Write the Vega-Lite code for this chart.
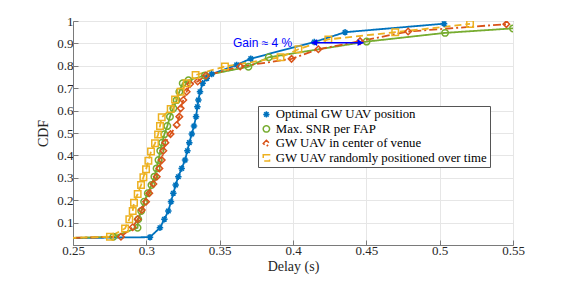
{
  "$schema": "https://vega.github.io/schema/vega-lite/v6.json",
  "width": 440,
  "height": 224,
  "autosize": {"type": "none"},
  "padding": {"left": 73, "top": 21, "right": 52, "bottom": 38},
  "background": "white",
  "view": {"stroke": "#7a7a7a", "strokeWidth": 1},
  "datasets": {
    "cdf": [
      {"s": "Optimal GW UAV position", "x": 0.24, "y": 0.03},
      {"s": "Optimal GW UAV position", "x": 0.3025, "y": 0.035},
      {"s": "Optimal GW UAV position", "x": 0.3093, "y": 0.077},
      {"s": "Optimal GW UAV position", "x": 0.3123, "y": 0.115},
      {"s": "Optimal GW UAV position", "x": 0.315, "y": 0.152},
      {"s": "Optimal GW UAV position", "x": 0.3168, "y": 0.193},
      {"s": "Optimal GW UAV position", "x": 0.3184, "y": 0.231},
      {"s": "Optimal GW UAV position", "x": 0.32, "y": 0.268},
      {"s": "Optimal GW UAV position", "x": 0.3218, "y": 0.305},
      {"s": "Optimal GW UAV position", "x": 0.3241, "y": 0.342},
      {"s": "Optimal GW UAV position", "x": 0.3264, "y": 0.379},
      {"s": "Optimal GW UAV position", "x": 0.328, "y": 0.421},
      {"s": "Optimal GW UAV position", "x": 0.3293, "y": 0.457},
      {"s": "Optimal GW UAV position", "x": 0.331, "y": 0.496},
      {"s": "Optimal GW UAV position", "x": 0.3325, "y": 0.531},
      {"s": "Optimal GW UAV position", "x": 0.3339, "y": 0.573},
      {"s": "Optimal GW UAV position", "x": 0.3348, "y": 0.617},
      {"s": "Optimal GW UAV position", "x": 0.3355, "y": 0.647},
      {"s": "Optimal GW UAV position", "x": 0.3366, "y": 0.684},
      {"s": "Optimal GW UAV position", "x": 0.3384, "y": 0.722},
      {"s": "Optimal GW UAV position", "x": 0.3412, "y": 0.744},
      {"s": "Optimal GW UAV position", "x": 0.3446, "y": 0.763},
      {"s": "Optimal GW UAV position", "x": 0.3616, "y": 0.804},
      {"s": "Optimal GW UAV position", "x": 0.3712, "y": 0.832},
      {"s": "Optimal GW UAV position", "x": 0.4145, "y": 0.906},
      {"s": "Optimal GW UAV position", "x": 0.4355, "y": 0.95},
      {"s": "Optimal GW UAV position", "x": 0.503, "y": 0.988},

      {"s": "Max. SNR per FAP", "x": 0.24, "y": 0.03},
      {"s": "Max. SNR per FAP", "x": 0.2775, "y": 0.037},
      {"s": "Max. SNR per FAP", "x": 0.294, "y": 0.077},
      {"s": "Max. SNR per FAP", "x": 0.2945, "y": 0.115},
      {"s": "Max. SNR per FAP", "x": 0.2965, "y": 0.152},
      {"s": "Max. SNR per FAP", "x": 0.2985, "y": 0.193},
      {"s": "Max. SNR per FAP", "x": 0.301, "y": 0.231},
      {"s": "Max. SNR per FAP", "x": 0.3035, "y": 0.268},
      {"s": "Max. SNR per FAP", "x": 0.3055, "y": 0.305},
      {"s": "Max. SNR per FAP", "x": 0.307, "y": 0.342},
      {"s": "Max. SNR per FAP", "x": 0.3083, "y": 0.379},
      {"s": "Max. SNR per FAP", "x": 0.3095, "y": 0.421},
      {"s": "Max. SNR per FAP", "x": 0.3108, "y": 0.457},
      {"s": "Max. SNR per FAP", "x": 0.3123, "y": 0.494},
      {"s": "Max. SNR per FAP", "x": 0.3143, "y": 0.531},
      {"s": "Max. SNR per FAP", "x": 0.3161, "y": 0.573},
      {"s": "Max. SNR per FAP", "x": 0.3184, "y": 0.61},
      {"s": "Max. SNR per FAP", "x": 0.3207, "y": 0.647},
      {"s": "Max. SNR per FAP", "x": 0.3225, "y": 0.684},
      {"s": "Max. SNR per FAP", "x": 0.3248, "y": 0.722},
      {"s": "Max. SNR per FAP", "x": 0.3287, "y": 0.735},
      {"s": "Max. SNR per FAP", "x": 0.34, "y": 0.757},
      {"s": "Max. SNR per FAP", "x": 0.3696, "y": 0.796},
      {"s": "Max. SNR per FAP", "x": 0.3835, "y": 0.838},
      {"s": "Max. SNR per FAP", "x": 0.4502, "y": 0.908},
      {"s": "Max. SNR per FAP", "x": 0.5037, "y": 0.947},
      {"s": "Max. SNR per FAP", "x": 0.55, "y": 0.967},

      {"s": "GW UAV in center of venue", "x": 0.24, "y": 0.03},
      {"s": "GW UAV in center of venue", "x": 0.2827, "y": 0.037},
      {"s": "GW UAV in center of venue", "x": 0.2907, "y": 0.079},
      {"s": "GW UAV in center of venue", "x": 0.2941, "y": 0.115},
      {"s": "GW UAV in center of venue", "x": 0.2969, "y": 0.156},
      {"s": "GW UAV in center of venue", "x": 0.2998, "y": 0.193},
      {"s": "GW UAV in center of venue", "x": 0.302, "y": 0.231},
      {"s": "GW UAV in center of venue", "x": 0.3048, "y": 0.272},
      {"s": "GW UAV in center of venue", "x": 0.3071, "y": 0.305},
      {"s": "GW UAV in center of venue", "x": 0.3089, "y": 0.342},
      {"s": "GW UAV in center of venue", "x": 0.3105, "y": 0.379},
      {"s": "GW UAV in center of venue", "x": 0.3116, "y": 0.421},
      {"s": "GW UAV in center of venue", "x": 0.313, "y": 0.457},
      {"s": "GW UAV in center of venue", "x": 0.3165, "y": 0.495},
      {"s": "GW UAV in center of venue", "x": 0.3207, "y": 0.536},
      {"s": "GW UAV in center of venue", "x": 0.3225, "y": 0.573},
      {"s": "GW UAV in center of venue", "x": 0.3234, "y": 0.61},
      {"s": "GW UAV in center of venue", "x": 0.3252, "y": 0.647},
      {"s": "GW UAV in center of venue", "x": 0.3275, "y": 0.684},
      {"s": "GW UAV in center of venue", "x": 0.3298, "y": 0.719},
      {"s": "GW UAV in center of venue", "x": 0.335, "y": 0.73},
      {"s": "GW UAV in center of venue", "x": 0.3407, "y": 0.757},
      {"s": "GW UAV in center of venue", "x": 0.364, "y": 0.797},
      {"s": "GW UAV in center of venue", "x": 0.399, "y": 0.831},
      {"s": "GW UAV in center of venue", "x": 0.4173, "y": 0.874},
      {"s": "GW UAV in center of venue", "x": 0.4457, "y": 0.91},
      {"s": "GW UAV in center of venue", "x": 0.4785, "y": 0.953},
      {"s": "GW UAV in center of venue", "x": 0.5455, "y": 0.986},

      {"s": "GW UAV randomly positioned over time", "x": 0.24, "y": 0.03},
      {"s": "GW UAV randomly positioned over time", "x": 0.2752, "y": 0.037},
      {"s": "GW UAV randomly positioned over time", "x": 0.2855, "y": 0.074},
      {"s": "GW UAV randomly positioned over time", "x": 0.2884, "y": 0.115},
      {"s": "GW UAV randomly positioned over time", "x": 0.2907, "y": 0.152},
      {"s": "GW UAV randomly positioned over time", "x": 0.2916, "y": 0.189},
      {"s": "GW UAV randomly positioned over time", "x": 0.2941, "y": 0.228},
      {"s": "GW UAV randomly positioned over time", "x": 0.2964, "y": 0.268},
      {"s": "GW UAV randomly positioned over time", "x": 0.298, "y": 0.302},
      {"s": "GW UAV randomly positioned over time", "x": 0.2998, "y": 0.338},
      {"s": "GW UAV randomly positioned over time", "x": 0.3014, "y": 0.376},
      {"s": "GW UAV randomly positioned over time", "x": 0.3032, "y": 0.417},
      {"s": "GW UAV randomly positioned over time", "x": 0.3059, "y": 0.454},
      {"s": "GW UAV randomly positioned over time", "x": 0.308, "y": 0.493},
      {"s": "GW UAV randomly positioned over time", "x": 0.3093, "y": 0.531},
      {"s": "GW UAV randomly positioned over time", "x": 0.3105, "y": 0.57},
      {"s": "GW UAV randomly positioned over time", "x": 0.3166, "y": 0.607},
      {"s": "GW UAV randomly positioned over time", "x": 0.3196, "y": 0.65},
      {"s": "GW UAV randomly positioned over time", "x": 0.3234, "y": 0.684},
      {"s": "GW UAV randomly positioned over time", "x": 0.3275, "y": 0.722},
      {"s": "GW UAV randomly positioned over time", "x": 0.3336, "y": 0.759},
      {"s": "GW UAV randomly positioned over time", "x": 0.3536, "y": 0.797},
      {"s": "GW UAV randomly positioned over time", "x": 0.3915, "y": 0.838},
      {"s": "GW UAV randomly positioned over time", "x": 0.4037, "y": 0.874},
      {"s": "GW UAV randomly positioned over time", "x": 0.4241, "y": 0.918},
      {"s": "GW UAV randomly positioned over time", "x": 0.4697, "y": 0.95},
      {"s": "GW UAV randomly positioned over time", "x": 0.5207, "y": 0.987}
    ]
  },
  "encoding": {
    "x": {
      "field": "x", "type": "quantitative",
      "scale": {"domain": [0.25, 0.55], "nice": false, "zero": false},
      "axis": {
        "orient": "bottom", "title": "Delay (s)",
        "values": [0.25, 0.3, 0.35, 0.4, 0.45, 0.5, 0.55], "format": "~g",
        "grid": true, "gridColor": "#e6e6e6",
        "domainColor": "#7a7a7a", "tickColor": "#7a7a7a", "tickSize": -5,
        "labelFont": "Liberation Serif", "labelFontSize": 13, "labelColor": "#262626",
        "labelPadding": 4, "labelFlush": false, "labelOverlap": false,
        "titleFont": "Liberation Serif", "titleFontSize": 14, "titleFontWeight": "normal",
        "titleColor": "#262626", "titlePadding": 2
      }
    },
    "y": {
      "field": "y", "type": "quantitative",
      "scale": {"domain": [0, 1], "nice": false, "zero": false},
      "axis": {
        "orient": "left", "title": "CDF",
        "values": [0.1, 0.2, 0.3, 0.4, 0.5, 0.6, 0.7, 0.8, 0.9, 1], "format": "~g",
        "grid": true, "gridColor": "#e6e6e6",
        "domainColor": "#7a7a7a", "tickColor": "#7a7a7a", "tickSize": -5,
        "labelFont": "Liberation Serif", "labelFontSize": 13, "labelColor": "#262626",
        "labelPadding": 5, "labelFlush": false, "labelOverlap": false,
        "titleFont": "Liberation Serif", "titleFontSize": 14, "titleFontWeight": "normal",
        "titleColor": "#262626", "titlePadding": 6
      }
    }
  },
  "layer": [
    {
      "data": {"name": "cdf"},
      "mark": {"type": "line", "strokeWidth": 1.8, "clip": true},
      "encoding": {
        "color": {
          "field": "s", "type": "nominal",
          "scale": {
            "domain": ["Optimal GW UAV position", "Max. SNR per FAP", "GW UAV in center of venue", "GW UAV randomly positioned over time"],
            "range": ["#0072BD", "#77AC30", "#D95319", "#EDB120"]
          },
          "legend": {
            "title": null, "orient": "none", "legendX": 185, "legendY": 85, "direction": "vertical",
            "fillColor": "white", "strokeColor": "#555555", "padding": 2, "cornerRadius": 0,
            "labelFont": "Liberation Serif", "labelFontSize": 12.8, "labelColor": "black", "labelLimit": 400,
            "symbolSize": 40, "symbolStrokeWidth": 1.5, "labelOffset": 3, "rowPadding": 0.5
          }
        },
        "strokeDash": {
          "field": "s", "type": "nominal", "legend": null,
          "scale": {
            "domain": ["Optimal GW UAV position", "Max. SNR per FAP", "GW UAV in center of venue", "GW UAV randomly positioned over time"],
            "range": [[1, 0], [1, 0], [8, 3, 2, 3], [7, 4]]
          }
        },
        "order": {"field": "x", "type": "quantitative"}
      }
    },
    {
      "data": {"name": "cdf"},
      "mark": {"type": "point", "filled": false, "strokeWidth": 1.5, "size": 42, "clip": true, "opacity": 1},
      "encoding": {
        "color": {"field": "s", "type": "nominal"},
        "shape": {
          "field": "s", "type": "nominal",
          "scale": {
            "domain": ["Optimal GW UAV position", "Max. SNR per FAP", "GW UAV in center of venue", "GW UAV randomly positioned over time"],
            "range": ["M-1,0L1,0M0,-1L0,1M-0.7,-0.7L0.7,0.7M-0.7,0.7L0.7,-0.7", "circle", "diamond", "square"]
          },
          "legend": {
            "title": null, "orient": "none", "legendX": 185, "legendY": 85, "direction": "vertical",
            "fillColor": "white", "strokeColor": "#555555", "padding": 2, "cornerRadius": 0,
            "labelFont": "Liberation Serif", "labelFontSize": 12.8, "labelColor": "black", "labelLimit": 400,
            "symbolSize": 40, "symbolStrokeWidth": 1.5, "labelOffset": 3, "rowPadding": 0.5
          }
        }
      }
    },
    {
      "data": {"values": [{"x": 0.3591, "y": 0.9, "t": "Gain ≈ 4 %"}]},
      "mark": {"type": "text", "align": "left", "baseline": "middle", "font": "Liberation Sans", "fontSize": 12, "color": "#0000ff"},
      "encoding": {
        "text": {"field": "t"}
      }
    },
    {
      "data": {"values": [{"x": 0.4125, "x2": 0.448, "y": 0.903}]},
      "mark": {"type": "rule", "color": "#0000ff", "strokeWidth": 1.5},
      "encoding": {
        "x2": {"field": "x2"}
      }
    },
    {
      "data": {"values": [{"x": 0.4145, "y": 0.903}]},
      "mark": {"type": "point", "shape": "triangle-left", "filled": true, "size": 45, "color": "#0000ff", "opacity": 1},
      "encoding": {}
    },
    {
      "data": {"values": [{"x": 0.446, "y": 0.903}]},
      "mark": {"type": "point", "shape": "triangle-right", "filled": true, "size": 45, "color": "#0000ff", "opacity": 1},
      "encoding": {}
    }
  ]
}
